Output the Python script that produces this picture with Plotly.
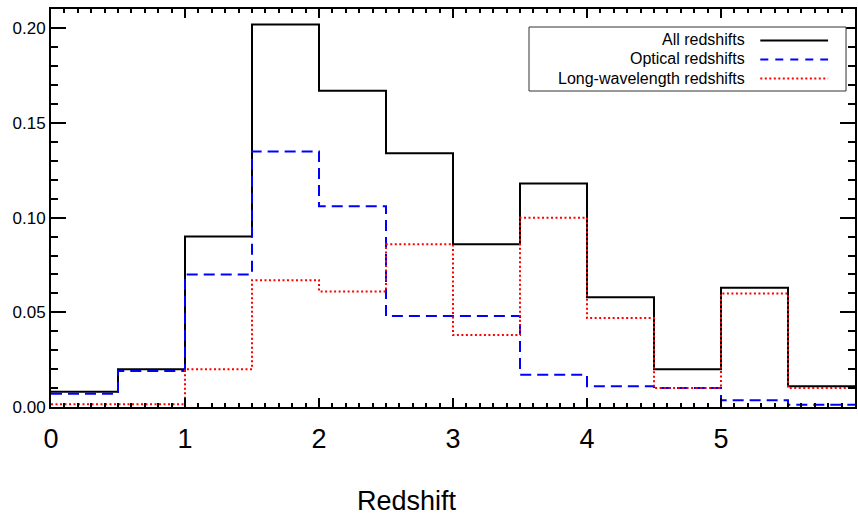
import plotly.graph_objects as go

# Redshift histogram: bin edges and normalised fractions per bin
bin_edges = [0.0, 0.5, 1.0, 1.5, 2.0, 2.5, 3.0, 3.5, 4.0, 4.5, 5.0, 5.5, 6.0]
all_z = [0.008, 0.020, 0.090, 0.202, 0.167, 0.134, 0.086, 0.118, 0.058, 0.020, 0.063, 0.011]
optical_z = [0.007, 0.019, 0.070, 0.135, 0.106, 0.048, 0.048, 0.017, 0.011, 0.010, 0.0035, 0.0012]
longwave_z = [0.0015, 0.0015, 0.020, 0.067, 0.061, 0.086, 0.038, 0.100, 0.047, 0.010, 0.060, 0.010]

series_names = ["All redshifts", "Optical redshifts", "Long-wavelength redshifts"]
series_colors = ["#000000", "#0000ff", "#ff0000"]
series_dash = ["solid", "11px,6px", "2px,2.5px"]
x_tick_vals = [0, 1, 2, 3, 4, 5]
y_tick_vals = [0.00, 0.05, 0.10, 0.15, 0.20]

FONT = "Liberation Sans, Arial, Helvetica, sans-serif"

fig = go.Figure()
for vals, name, col, dash in zip([all_z, optical_z, longwave_z], series_names, series_colors, series_dash):
    fig.add_trace(go.Scatter(
        x=bin_edges,
        y=vals + [vals[-1]],
        mode="lines",
        line=dict(shape="hv", color=col, width=2, dash=dash),
        name=name,
        showlegend=False,
        hoverinfo="skip",
    ))

# plot area in pixels (858 x 515 page)
L, R, T, B = 50.5, 857.0, 9.0, 407.0
W, H = 858, 515


def px(xp):
    return (xp - L) / (R - L)


def py(yp):
    return (B - yp) / (B - T)


# hand-built legend box: right-aligned labels with line samples on the right
fig.add_shape(type="rect", xref="paper", yref="paper",
              x0=px(530), x1=px(848), y0=py(91), y1=py(27),
              line=dict(color="#333333", width=1), fillcolor="white")
legend_dash = ["solid", "8px,7px", "2px,2.5px"]
row_y = [40, 59, 78]
for name, col, dash, yy in zip(series_names, series_colors, legend_dash, row_y):
    fig.add_annotation(xref="paper", yref="paper", x=px(749), y=py(yy),
                       text=name, showarrow=False, xanchor="right", yanchor="middle",
                       font=dict(family=FONT, size=16, color="black"))
    fig.add_shape(type="line", xref="paper", yref="paper",
                  x0=px(762), x1=px(830), y0=py(yy + 0.5), y1=py(yy + 0.5),
                  line=dict(color=col, width=2, dash=dash))

# x-axis title
fig.add_annotation(xref="paper", yref="paper", x=px(408), y=py(501),
                   text="Redshift", showarrow=False, xanchor="center", yanchor="middle",
                   font=dict(family=FONT, size=27, color="black"))

fig.update_layout(
    width=W, height=H,
    margin=dict(l=L, r=W - R, t=T, b=H - B, pad=0),
    paper_bgcolor="white", plot_bgcolor="white",
    font=dict(family=FONT, color="black"),
    showlegend=False,
)
fig.update_xaxes(
    range=[0, 6], showgrid=False, zeroline=False,
    showline=True, linecolor="black", linewidth=2, mirror="allticks",
    ticks="inside", ticklen=9, tickwidth=2, tickcolor="black",
    tickvals=x_tick_vals, ticktext=[str(v) for v in x_tick_vals],
    tickfont=dict(family=FONT, size=27), ticklabelstandoff=7,
    minor=dict(dtick=0.1, ticks="inside", ticklen=4, tickwidth=2, tickcolor="black", showgrid=False),
)
fig.update_yaxes(
    range=[0, 0.2102], showgrid=False, zeroline=False,
    showline=True, linecolor="black", linewidth=2, mirror="allticks",
    ticks="inside", ticklen=15, tickwidth=2, tickcolor="black",
    tickvals=y_tick_vals, tickformat=".2f",
    tickfont=dict(family=FONT, size=17),
    minor=dict(dtick=0.01, ticks="inside", ticklen=7, tickwidth=2, tickcolor="black", showgrid=False),
)

fig.write_html("out.html")
